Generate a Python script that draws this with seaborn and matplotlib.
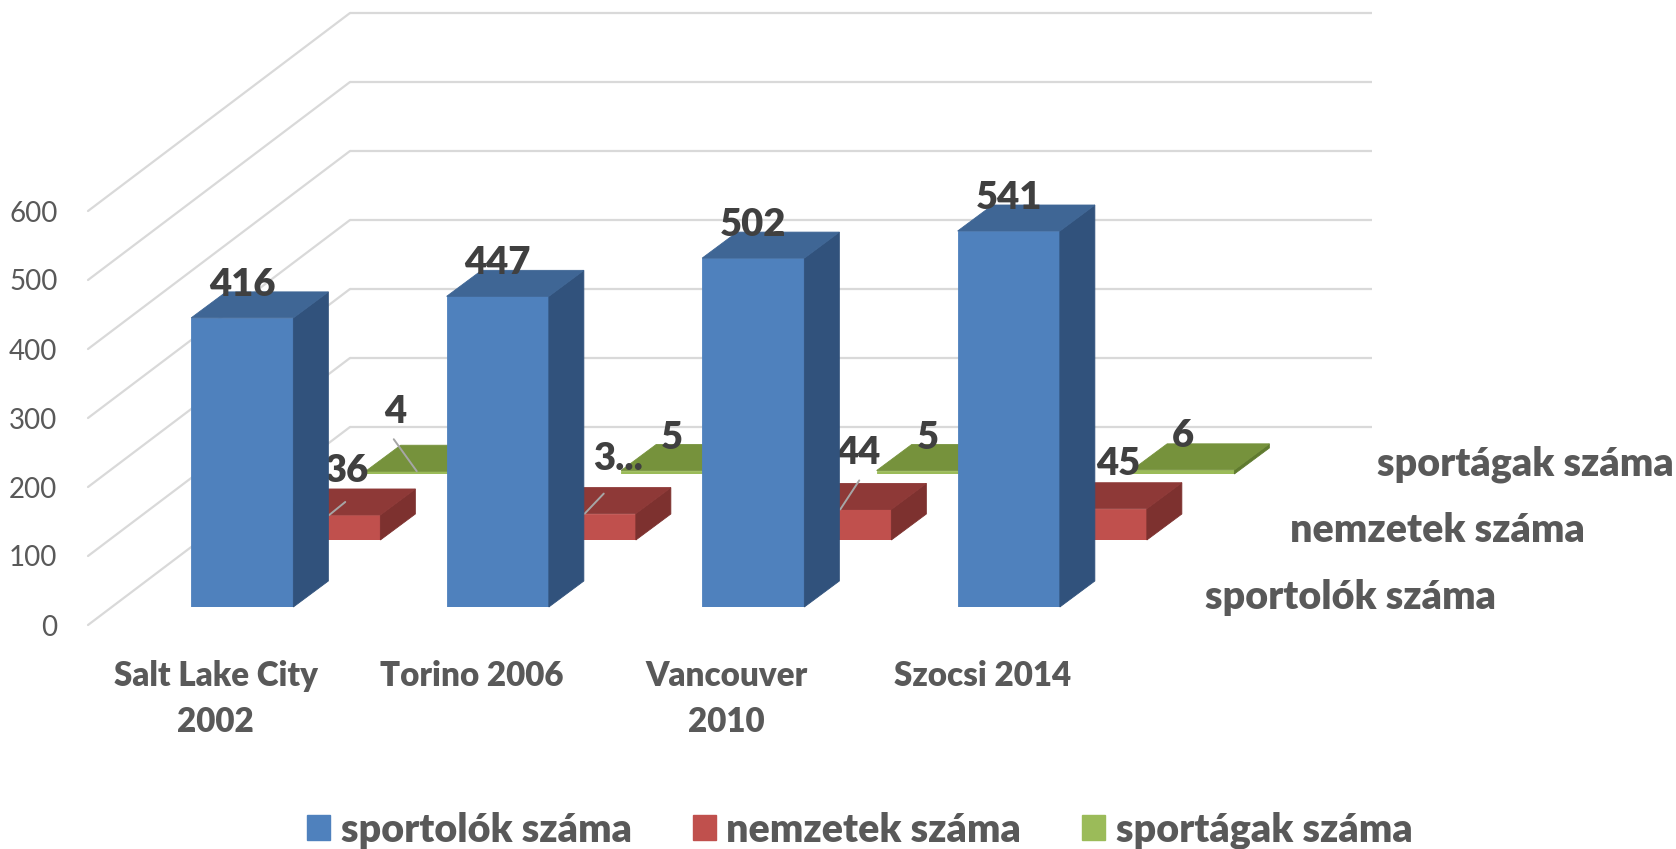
import matplotlib
matplotlib.use("Agg")
import matplotlib.pyplot as plt
from matplotlib.patches import Patch
import seaborn as sns

cities = ["Salt Lake City\n2002", "Torino 2006", "Vancouver\n2010", "Szocsi 2014"]
sportolok = [416, 447, 502, 541]
nemzetek = [36, 38, 44, 45]
sportagak = [4, 5, 5, 6]
sportolok_labels = ["416", "447", "502", "541"]
nemzetek_labels = ["36", "3...", "44", "45"]
sportagak_labels = ["4", "5", "5", "6"]
series_names = ["sportolók száma", "nemzetek száma", "sportágak száma"]
y_ticks = [0, 100, 200, 300, 400, 500, 600]

W, H = 1676, 849
CAT_W = 255.5
PX_PER_UNIT = 0.69
BAR_PX_PER_UNIT = 0.695
DEPTH_X = 35 / CAT_W
DEPTH_Y = 26 / BAR_PX_PER_UNIT
GRID = "#D9D9D9"
TEXT = "#595959"
LABEL = "#404040"
FONT = "Lato"
HEAVY = 800

sns.set_theme(style="white")
plt.rcParams["font.family"] = [FONT, "DejaVu Sans"]

fig = plt.figure(figsize=(W / 100, H / 100), dpi=100)
fig.patch.set_facecolor("white")


def make_axes(left, base, scale=PX_PER_UNIT):
    # left and base are pixels measured from the top left corner
    ax = fig.add_axes([left / W, (H - base) / H, 4 * CAT_W / W, 600 * scale / H])
    ax.patch.set_alpha(0)
    return ax


def fix_limits(ax):
    ax.set_xlim(-0.5, 3.5)
    ax.set_ylim(0, 600)


# back wall and the floor/side wall grid
wall = make_axes(350, 427)
fix_limits(wall)
wall.axis("off")
for v in y_ticks:
    wall.plot([-0.5, 3.5], [v, v], color=GRID, lw=1.6, clip_on=False, solid_capstyle="butt")
    wall.plot([-0.5, -0.5 - 262 / CAT_W], [v, v - 198 / PX_PER_UNIT], color=GRID, lw=1.6, clip_on=False)

# front axis only carries the tick labels
front = make_axes(88, 625)
fix_limits(front)
front.set_xticks(range(4))
front.set_xticklabels(cities, fontsize=23.9, fontweight=HEAVY, color=TEXT, linespacing=1.55)
front.set_yticks(y_ticks)
front.set_yticklabels(y_ticks, fontsize=20, color=TEXT)
front.tick_params(axis="x", length=0, pad=25)
front.tick_params(axis="y", length=0, pad=22)
for s in front.spines.values():
    s.set_visible(False)
front.grid(False)


def draw_series(left, base, values, labels, name, face, side, top, offsets, leaders):
    ax = make_axes(left, base, BAR_PX_PER_UNIT)
    sns.barplot(x=cities, y=values, ax=ax, color=face, saturation=1, width=0.4, linewidth=0.6, edgecolor=face)
    fix_limits(ax)
    ax.axis("off")
    for i, bar in enumerate(ax.patches):
        x0 = bar.get_x()
        x1 = x0 + bar.get_width()
        h = bar.get_height()
        xc = x0 + bar.get_width() / 2
        # thin edge of the same colour closes the seam between the faces
        ax.fill([x1, x1 + DEPTH_X, x1 + DEPTH_X, x1], [0, DEPTH_Y, h + DEPTH_Y, h], color=side, lw=0.6, clip_on=False)
        ax.fill([x0, x1, x1 + DEPTH_X, x0 + DEPTH_X], [h, h, h + DEPTH_Y, h + DEPTH_Y], color=top, lw=0.6, clip_on=False)
        if leaders[i]:
            ax.annotate("", xy=(xc, h), xytext=leaders[i], textcoords="offset pixels", annotation_clip=False,
                        arrowprops=dict(arrowstyle="-", color="#A6A6A6", lw=1.4, shrinkA=0, shrinkB=0))
        ax.annotate(labels[i], xy=(xc, h), xytext=offsets[i], textcoords="offset pixels",
                    ha="center", va="center", fontsize=27.5, fontweight=HEAVY, color=LABEL,
                    annotation_clip=False)
    # name of the series on the depth axis
    ax.annotate(name, xy=(3.5, 0), xytext=(214, 10), textcoords="offset pixels", ha="center", va="center",
                fontsize=28.4, fontweight=HEAVY, color=TEXT, annotation_clip=False)


# back to front so that the nearer bars cover the others
draw_series(289, 474, sportagak, sportagak_labels, series_names[2], "#9BBB59", "#5F7A2F", "#76923C",
            [(-22, 59), (0, 33), (0, 33), (0, 34)], [(-23, 32), None, None, None])
draw_series(201.5, 540, nemzetek, nemzetek_labels, series_names[1], "#C0504D", "#7D312F", "#8E3937",
            [(17, 44), (33, 55), (18, 56), (23, 45)], [(16, 13), (19, 20), (19, 29), None])
draw_series(114.5, 607, sportolok, sportolok_labels, series_names[0], "#4F81BD", "#31527C", "#3F6695",
            [(0, 33), (0, 33), (0, 33), (0, 33)], [None, None, None, None])

handles = [Patch(color=c, label=n) for c, n in zip(["#4F81BD", "#C0504D", "#9BBB59"], series_names)]
leg = fig.legend(handles=handles, loc="lower center", bbox_to_anchor=(860 / W, -0.042), ncol=3, frameon=False,
                 prop={"family": FONT, "weight": HEAVY, "size": 28.4}, labelcolor=TEXT,
                 handlelength=0.58, handleheight=0.6, handletextpad=0.27, columnspacing=1.55)

fig.savefig("out.png", dpi=100)
